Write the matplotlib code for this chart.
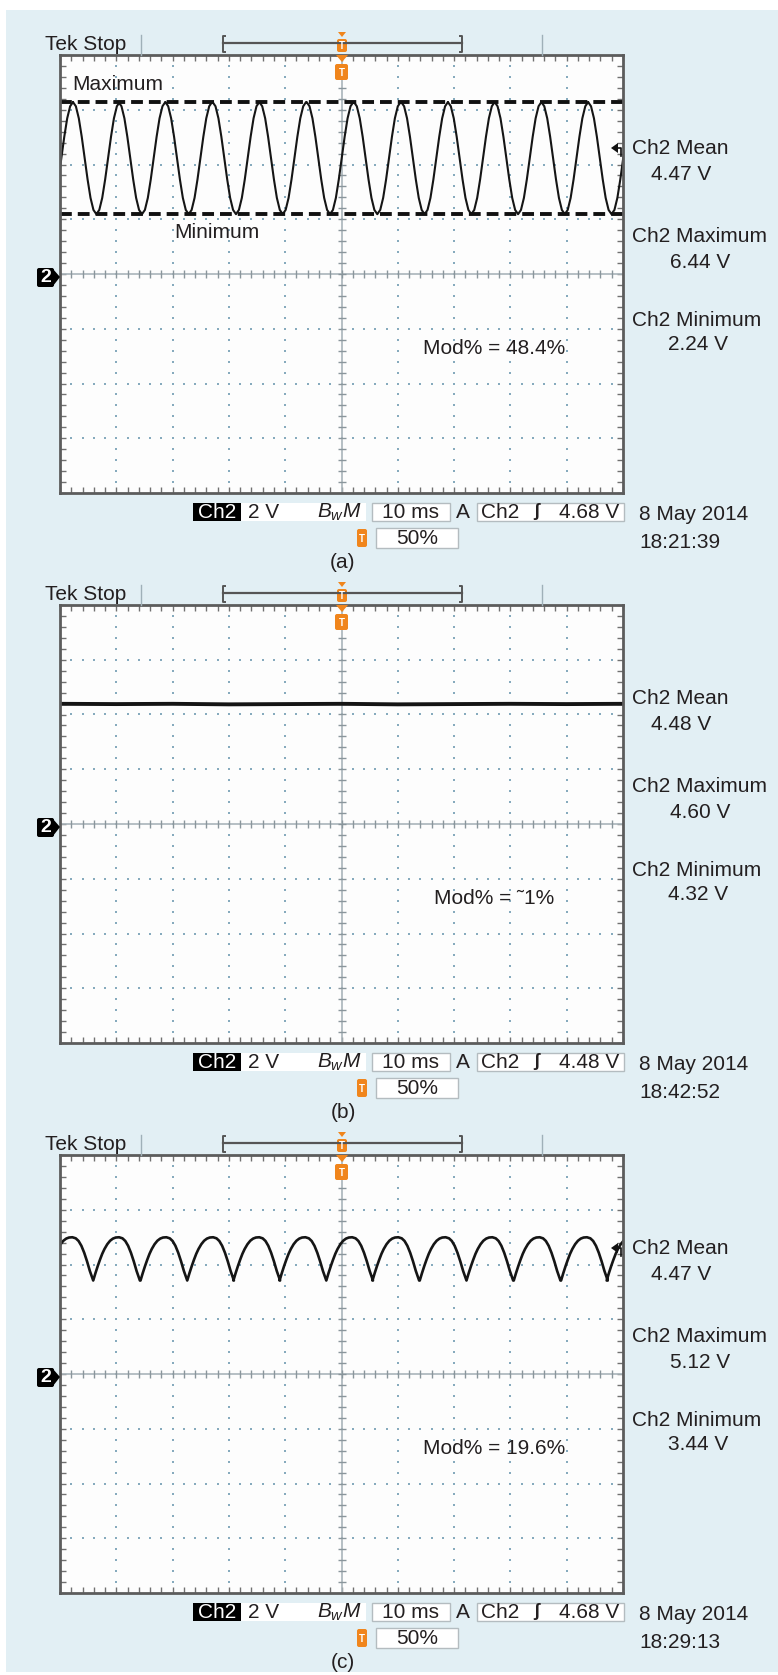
import numpy as np
import matplotlib.pyplot as plt
from matplotlib.patches import Rectangle, FancyBboxPatch, Polygon
from matplotlib.ticker import MultipleLocator

plt.rcParams['font.family'] = ['Liberation Sans', 'DejaVu Sans']
plt.rcParams['mathtext.fontset'] = 'custom'
plt.rcParams['mathtext.it'] = 'Liberation Sans:italic'
plt.rcParams['mathtext.rm'] = 'Liberation Sans'
plt.rcParams['lines.scale_dashes'] = False

# ---- readings from the three scope screens ----
panel_tags = ["(a)", "(b)", "(c)"]
mean_labels = ["4.47 V", "4.48 V", "4.47 V"]
max_labels = ["6.44 V", "4.60 V", "5.12 V"]
min_labels = ["2.24 V", "4.32 V", "3.44 V"]
mod_labels = ["Mod% = 48.4%", "Mod% = \u02dc1%", "Mod% = 19.6%"]
trigger_levels = ["4.68 V", "4.48 V", "4.68 V"]
dates = ["8 May 2014", "8 May 2014", "8 May 2014"]
clock_times = ["18:21:39", "18:42:52", "18:29:13"]

# (a) one period of the ripple, starting at a crest (ms, V), and crest times (ms)
a_shape_t = [0.0, 0.52, 1.04, 1.56, 2.08, 2.60, 3.12, 3.64, 4.16,
             4.68, 5.20, 5.72, 6.24, 6.76, 7.28, 7.80, 8.31]
a_shape_v = [6.44, 6.28, 5.83, 5.14, 4.34, 3.54, 2.85, 2.40, 2.24,
             2.40, 2.85, 3.54, 4.34, 5.14, 5.83, 6.28, 6.44]
a_crests = [-6.0, 2.3, 10.4, 18.7, 27.1, 35.4, 43.8, 52.2, 60.6,
            68.9, 77.2, 85.5, 93.8]
a_max_line = 6.44
a_min_line = 2.24

# (b) almost flat trace (ms, V)
b_t = [0, 10, 20, 30, 40, 50, 60, 70, 80, 90, 100]
b_v = [4.50, 4.49, 4.50, 4.48, 4.49, 4.50, 4.48, 4.49, 4.50, 4.49, 4.50]

# (c) one period starting at a trough (ms, V), and trough times (ms)
c_shape_t = [0.0, 0.4, 0.8, 1.2, 1.6, 2.0, 2.5, 3.0, 3.5, 4.0, 4.6,
             5.2, 5.7, 6.2, 6.7, 7.2, 7.7, 8.29]
c_shape_v = [3.50, 3.78, 4.04, 4.28, 4.50, 4.68, 4.86, 4.99, 5.07, 5.11,
             5.12, 5.08, 4.98, 4.80, 4.54, 4.22, 3.86, 3.50]
c_troughs = [-2.4, 5.9, 14.3, 22.6, 30.8, 39.0, 47.3, 55.5, 63.9,
             72.2, 80.6, 89.0, 97.1]


def tile(starts, shape_t, shape_v):
    t = (np.array(starts)[:, None] + np.array(shape_t)[None, :]).ravel()
    v = np.tile(shape_v, len(starts))
    return t, v


traces = [tile(a_crests, a_shape_t, a_shape_v),
          (np.array(b_t), np.array(b_v)),
          tile(c_troughs, c_shape_t, c_shape_v)]
trace_widths = [1.5, 2.8, 1.9]

# ---- layout (pixels) ----
W, H = 778, 1675
STEP = 550
X0, X1, Y0, Y1 = 60, 623, 55, 493
INK = '#231f20'
BLUE = '#e2eff4'
ORANGE = '#f0851c'
GRID = '#86aabd'
FS = 15

fig = plt.figure(figsize=(W / 100, H / 100), dpi=100, facecolor='white')


def frac(x0, y0, x1, y1):
    return [x0 / W, 1 - y1 / H, (x1 - x0) / W, (y1 - y0) / H]


bg = fig.add_axes(frac(6, 10, W, 1672), zorder=-5)
bg.set_facecolor(BLUE)
bg.set_xticks([])
bg.set_yticks([])
for s in bg.spines.values():
    s.set_visible(False)

over = fig.add_axes([0, 0, 1, 1], zorder=10)
over.set_xlim(0, W)
over.set_ylim(H, 0)
over.axis('off')


def txt(x, y, s, ha='left', color=INK, size=FS, **kw):
    over.text(x, y, s, ha=ha, va='center', color=color, fontsize=size, **kw)


def box(x0, y0, x1, y1, face, edge='none', lw=1.0):
    over.add_patch(Rectangle((x0, y0), x1 - x0, y1 - y0, facecolor=face,
                             edgecolor=edge, lw=lw))


def tbadge(x0, y0, x1, y1):
    over.add_patch(FancyBboxPatch((x0, y0), x1 - x0, y1 - y0,
                                  boxstyle="round,pad=0,rounding_size=2",
                                  facecolor=ORANGE, edgecolor='none'))
    over.text((x0 + x1) / 2, (y0 + y1) / 2 + 0.5, "T", ha='center',
              va='center', color='white', fontsize=7, fontweight='bold')


for i in range(3):
    dy = i * STEP
    t, v = traces[i]

    ax = fig.add_axes(frac(X0, Y0 + dy, X1, Y1 + dy), zorder=1)
    ax.set_facecolor('#fdfdfd')
    ax.set_xlim(0, 100)
    ax.set_ylim(-8.2, 8.2)
    for s in ax.spines.values():
        s.set_color('#5c5c5c')
        s.set_linewidth(2)
    ax.xaxis.set_major_locator(MultipleLocator(2))
    ax.yaxis.set_major_locator(MultipleLocator(16.4 / 40))
    ax.tick_params(direction='in', length=4, width=1, color='#707070',
                   top=True, right=True, labelbottom=False, labelleft=False)

    # dotted graticule
    for k in range(1, 10):
        if k != 5:
            ys = np.arange(1, 40) / 40
            ax.plot(np.full_like(ys, k / 10), ys, ls='none', marker='s',
                    ms=1.6, mew=0, color=GRID, transform=ax.transAxes)
    for k in range(1, 8):
        if k != 4:
            xs = np.arange(1, 50) / 50
            ax.plot(xs, np.full_like(xs, k / 8), ls='none', marker='s',
                    ms=1.6, mew=0, color=GRID, transform=ax.transAxes)
    # centre cross with ticks
    ax.axvline(50, color='#a9b4ba', lw=1.2)
    ax.axhline(0, color='#a9b4ba', lw=1.2)
    xs = np.arange(1, 50) / 50
    ax.plot(xs, np.full_like(xs, 0.5), ls='none', marker='|', ms=6,
            mew=1, color='#8a969c', transform=ax.transAxes)
    ys = np.arange(1, 40) / 40
    ax.plot(np.full_like(ys, 0.5), ys, ls='none', marker='_', ms=6,
            mew=1, color='#8a969c', transform=ax.transAxes)

    ax.plot(t, v, color='#151515', lw=trace_widths[i], solid_joinstyle='round')
    if i == 0:
        for lvl in (a_max_line, a_min_line):
            ax.axhline(lvl, color='#111111', lw=2.8, dashes=(8.5, 4.3))

    # header
    txt(45, 45 + dy, "Tek Stop")
    over.plot([141, 141], [35 + dy, 55 + dy], color='#9fb0b8', lw=1)
    over.plot([542, 542], [35 + dy, 55 + dy], color='#9fb0b8', lw=1)
    over.plot([223, 462], [43 + dy, 43 + dy], color='#555555', lw=1.6)
    over.plot([225, 223, 223, 225], [36 + dy, 36 + dy, 52 + dy, 52 + dy],
              color='#555555', lw=1.4)
    over.plot([460, 462, 462, 460], [36 + dy, 36 + dy, 52 + dy, 52 + dy],
              color='#555555', lw=1.4)
    over.add_patch(Polygon([(338, 32 + dy), (346, 32 + dy), (342, 37 + dy)],
                           facecolor=ORANGE, edgecolor='none'))
    tbadge(337, 39 + dy, 347, 52 + dy)
    over.add_patch(Polygon([(336, 55 + dy), (348, 55 + dy), (342, 62 + dy)],
                           facecolor=ORANGE, edgecolor='none'))
    tbadge(335, 64 + dy, 348, 80 + dy)

    # channel ground marker
    over.add_patch(FancyBboxPatch((37, 268 + dy), 17, 19,
                                  boxstyle="round,pad=0,rounding_size=2",
                                  facecolor='black', edgecolor='none'))
    over.add_patch(Polygon([(53, 269 + dy), (60, 277 + dy), (53, 286 + dy)],
                           facecolor='black', edgecolor='none'))
    over.text(46, 278 + dy, "2", ha='center', va='center', color='white',
              fontsize=14, fontweight='bold')

    # mean level arrow
    if i != 1:
        over.add_patch(Polygon([(611, 148 + dy), (618, 143 + dy),
                                (618, 153 + dy)], facecolor='#111111',
                               edgecolor='none'))
        over.plot([617, 621, 621], [148 + dy, 148 + dy, 156 + dy],
                  color='#111111', lw=1.2)

    # in-screen annotations
    if i == 0:
        txt(72, 85 + dy, "Maximum")
        txt(174, 233 + dy, "Minimum")
    txt(494, 348 + dy, mod_labels[i], ha='center')

    # right-hand measurements
    txt(632, 149 + dy, "Ch2 Mean")
    txt(681, 174 + dy, mean_labels[i], ha='center')
    txt(632, 237 + dy, "Ch2 Maximum")
    txt(700, 262 + dy, max_labels[i], ha='center')
    txt(632, 320 + dy, "Ch2 Minimum")
    txt(698, 345 + dy, min_labels[i], ha='center')

    # status bar
    box(193, 503 + dy, 241, 521 + dy, 'black')
    txt(217, 512 + dy, "Ch2", ha='center', color='white')
    box(241, 503 + dy, 366, 521 + dy, 'white')
    txt(248, 512 + dy, "2 V")
    txt(361, 512 + dy, r"$B_wM$", ha='right')
    box(372, 503 + dy, 450, 521 + dy, 'white', '#b4bcc0')
    txt(411, 512 + dy, "10 ms", ha='center')
    txt(463, 512 + dy, "A", ha='center')
    box(477, 503 + dy, 624, 521 + dy, 'white', '#b4bcc0')
    txt(481, 512 + dy, "Ch2")
    txt(536, 512 + dy, "\u0283", ha='center', size=13, fontweight='bold')
    txt(619, 512 + dy, trigger_levels[i], ha='right')

    tbadge(357, 529 + dy, 367, 547 + dy)
    box(376, 528 + dy, 458, 548 + dy, 'white', '#b4bcc0')
    txt(417, 538 + dy, "50%", ha='center')
    txt(343, 562 + dy, panel_tags[i], ha='center')

    txt(639, 515 + dy, dates[i])
    txt(639, 542 + dy, clock_times[i])

fig.savefig("out.png", dpi=100, facecolor='white')
